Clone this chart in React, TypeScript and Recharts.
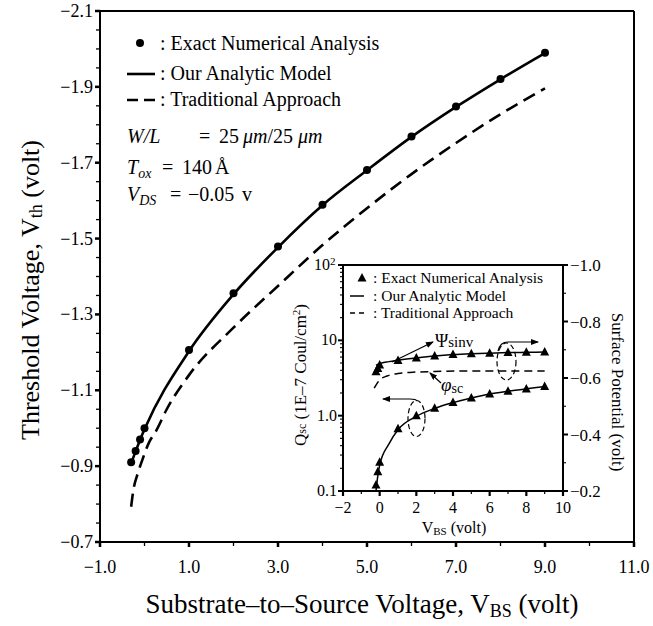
import React from "react";
import { ComposedChart, Line, Scatter, XAxis, YAxis, ReferenceLine } from "recharts";

const serif = "'Liberation Serif', 'Times New Roman', serif";

// main plot: Vth vs VBS
const vbsExact = [-0.3, -0.2, -0.1, 0, 1, 2, 3, 4, 5, 6, 7, 8, 9];
const vthExact = [-0.91, -0.94, -0.97, -1.0, -1.206, -1.356, -1.479, -1.589, -1.681, -1.769, -1.848, -1.921, -1.99];
const vbsModel = [-0.3, -0.2, -0.1, 0, 1, 2, 3, 4, 5, 6, 7, 8, 9];
const vthModel = [-0.907, -0.939, -0.969, -0.997, -1.203, -1.353, -1.477, -1.588, -1.68, -1.768, -1.847, -1.92, -1.989];
const vbsTrad = [-0.3, -0.25, -0.15, -0.05, 0.1, 0.27, 0.5, 1, 2, 3, 4, 5, 6, 7, 8, 9];
const vthTrad = [-0.793, -0.837, -0.881, -0.916, -0.962, -0.995, -1.05, -1.14, -1.265, -1.375, -1.483, -1.58, -1.67, -1.752, -1.828, -1.896];

// inset: Qsc (left, log) and surface potential (right)
const inVbsExact = [-0.2, -0.1, 0, 1, 2, 3, 4, 5, 6, 7, 8, 9];
const qscExact = [0.12, 0.18, 0.24, 0.67, 1.0, 1.25, 1.49, 1.72, 1.94, 2.11, 2.26, 2.43];
const psiExact = [-0.622, -0.634, -0.646, -0.662, -0.671, -0.678, -0.683, -0.686, -0.688, -0.69, -0.691, -0.692];
const inVbsModel = [-0.2, -0.1, 0, 0.5, 1, 2, 3, 4, 5, 6, 7, 8, 9];
const qscModel = [0.1, 0.16, 0.22, 0.42, 0.65, 0.98, 1.25, 1.49, 1.72, 1.94, 2.11, 2.27, 2.43];
const psiModel = [-0.645, -0.648, -0.651, -0.658, -0.663, -0.671, -0.678, -0.683, -0.686, -0.688, -0.69, -0.691, -0.692];
const inVbsTrad = [-0.3, -0.2, -0.1, 0, 0.4, 1, 2, 3, 5, 7, 9];
const phiTrad = [-0.564, -0.575, -0.585, -0.593, -0.607, -0.616, -0.621, -0.623, -0.625, -0.625, -0.625];

const logTicks = [0.1, 0.2, 0.3, 0.4, 0.5, 0.6, 0.7, 0.8, 0.9, 1, 2, 3, 4, 5, 6, 7, 8, 9, 10, 20, 30, 40, 50, 60, 70, 80, 90, 100];
const logLabels: Record<string, string> = { "0.1": "0.1", "1": "1.0", "10": "10", "100": "10" };

const steps = (a: number, b: number, s: number) => {
  const out: number[] = [];
  const n = Math.round((b - a) / s);
  for (let i = 0; i <= n; i++) out.push(Math.round((a + i * s) * 1000) / 1000);
  return out;
};

const pts = (xs: number[], ys: number[]) => xs.map((x, i) => ({ x, y: ys[i] }));

const fmt1 = (v: number) => (v < 0 ? "\u2212" : "") + Math.abs(v).toFixed(1);
const fmt0 = (v: number) => (v < 0 ? "\u2212" : "") + Math.abs(v).toFixed(0);

function MainXTick(p: any) {
  const { x, y, payload } = p;
  const v = payload.value;
  const ay = y - 8;
  const major = Math.abs(Math.round(v)) % 2 === 1;
  return (
    <g>
      <line x1={x} x2={x} y1={ay} y2={ay + (major ? 5 : 4)} stroke="#000" strokeWidth={major ? 2.5 : 1.3} />
      {major && (
        <text x={x} y={ay + 31} textAnchor="middle" fontSize={18} fontFamily={serif}>{fmt1(v)}</text>
      )}
    </g>
  );
}

function MainYTick(p: any) {
  const { x, y, payload } = p;
  const v = payload.value;
  const ax = x + 8;
  const major = Math.abs(Math.round(v * 100) % 20) === 10;
  return (
    <g>
      <line x1={ax} x2={ax - (major ? 5 : 4)} y1={y} y2={y} stroke="#000" strokeWidth={major ? 2.5 : 1.3} />
      {major && (
        <text x={ax - 7} y={y + 6} textAnchor="end" fontSize={18} fontFamily={serif}>{fmt1(v)}</text>
      )}
    </g>
  );
}

function InsetXTick(p: any) {
  const { x, y, payload } = p;
  const v = payload.value;
  const ay = y - 8;
  const major = Math.round(v) % 2 === 0;
  return (
    <g>
      <line x1={x} x2={x} y1={ay} y2={ay + (major ? 5 : 3)} stroke="#000" strokeWidth={major ? 2.2 : 1.2} />
      {major && (
        <text x={x} y={ay + 22} textAnchor="middle" fontSize={16} fontFamily={serif}>{fmt0(v)}</text>
      )}
    </g>
  );
}

function InsetLogTick(p: any) {
  const { x, y, payload } = p;
  const v = payload.value;
  const ax = x + 8;
  const label = logLabels[String(v)];
  return (
    <g>
      <line x1={ax} x2={ax - (label ? 5 : 3)} y1={y} y2={y} stroke="#000" strokeWidth={label ? 2 : 1.1} />
      {label && (
        <text x={ax - (v === 100 ? 13 : 6)} y={y + 5} textAnchor="end" fontSize={16} fontFamily={serif}>{label}</text>
      )}
      {v === 100 && (
        <text x={ax - 13} y={y} fontSize={11} fontFamily={serif}>2</text>
      )}
    </g>
  );
}

function InsetRightTick(p: any) {
  const { x, y, payload } = p;
  const v = payload.value;
  const ax = x - 8;
  const major = Math.abs(Math.round(v * 10)) % 2 === 0;
  return (
    <g>
      <line x1={ax} x2={ax + (major ? 5 : 3)} y1={y} y2={y} stroke="#000" strokeWidth={major ? 2 : 1.1} />
      {major && (
        <text x={ax + 7} y={y + 6} textAnchor="start" fontSize={17} fontFamily={serif}>{fmt1(v)}</text>
      )}
    </g>
  );
}

const Dot = (p: any) => <circle cx={p.cx} cy={p.cy} r={4} fill="#000" />;
const Tri = (p: any) => (
  <polygon points={`${p.cx},${p.cy - 5} ${p.cx - 4.5},${p.cy + 3.5} ${p.cx + 4.5},${p.cy + 3.5}`} fill="#000" />
);

function MainChart() {
  return (
    <ComposedChart width={653} height={626} margin={{ top: 11, right: 19, bottom: 54, left: 40 }}>
      <XAxis
        type="number"
        dataKey="x"
        domain={[-1, 11]}
        ticks={steps(-1, 11, 1)}
        interval={0}
        tickSize={0}
        tickMargin={8}
        tickLine={false}
        tick={(p: any) => <MainXTick {...p} />}
        axisLine={{ stroke: "#000", strokeWidth: 2 }}
        height={30}
        allowDataOverflow
      />
      <YAxis
        type="number"
        dataKey="y"
        domain={[-2.1, -0.7]}
        reversed
        ticks={steps(-2.1, -0.7, 0.05)}
        interval={0}
        tickSize={0}
        tickMargin={8}
        tickLine={false}
        tick={(p: any) => <MainYTick {...p} />}
        axisLine={{ stroke: "#000", strokeWidth: 2 }}
        width={60}
        allowDataOverflow
      />
      <ReferenceLine y={-2.1} stroke="#000" strokeWidth={2} />
      <ReferenceLine x={11} stroke="#000" strokeWidth={2} />
      <Line data={pts(vbsModel, vthModel)} dataKey="y" type="monotone" stroke="#000" strokeWidth={2.6} dot={false} isAnimationActive={false} />
      <Line data={pts(vbsTrad, vthTrad)} dataKey="y" type="monotone" stroke="#000" strokeWidth={2.6} strokeDasharray="13 7" dot={false} isAnimationActive={false} />
      <Scatter data={pts(vbsExact, vthExact)} dataKey="y" shape={Dot} isAnimationActive={false} />
    </ComposedChart>
  );
}

function InsetChart() {
  return (
    <ComposedChart width={340} height={290} margin={{ top: 10, right: 22, bottom: 24, left: 8 }}>
      <XAxis
        type="number"
        dataKey="x"
        domain={[-2, 10]}
        ticks={steps(-2, 10, 1)}
        interval={0}
        tickSize={0}
        tickMargin={8}
        tickLine={false}
        tick={(p: any) => <InsetXTick {...p} />}
        axisLine={{ stroke: "#000", strokeWidth: 2 }}
        height={30}
        allowDataOverflow
      />
      <YAxis
        yAxisId="q"
        type="number"
        dataKey="y"
        scale="log"
        domain={[0.1, 100]}
        ticks={logTicks}
        interval={0}
        tickSize={0}
        tickMargin={8}
        tickLine={false}
        tick={(p: any) => <InsetLogTick {...p} />}
        axisLine={{ stroke: "#000", strokeWidth: 2 }}
        width={45}
        allowDataOverflow
      />
      <YAxis
        yAxisId="psi"
        orientation="right"
        type="number"
        dataKey="y"
        domain={[-1.0, -0.2]}
        reversed
        ticks={steps(-1.0, -0.2, 0.1)}
        interval={0}
        tickSize={0}
        tickMargin={8}
        tickLine={false}
        tick={(p: any) => <InsetRightTick {...p} />}
        axisLine={{ stroke: "#000", strokeWidth: 2 }}
        width={45}
        allowDataOverflow
      />
      <ReferenceLine yAxisId="q" y={100} stroke="#000" strokeWidth={2} />
      <Line yAxisId="q" data={pts(inVbsModel, qscModel)} dataKey="y" type="monotone" stroke="#000" strokeWidth={1.5} dot={false} isAnimationActive={false} />
      <Line yAxisId="psi" data={pts(inVbsModel, psiModel)} dataKey="y" type="monotone" stroke="#000" strokeWidth={1.5} dot={false} isAnimationActive={false} />
      <Line yAxisId="psi" data={pts(inVbsTrad, phiTrad)} dataKey="y" type="monotone" stroke="#000" strokeWidth={1.5} strokeDasharray="8 5" dot={false} isAnimationActive={false} />
      <Scatter yAxisId="q" data={pts(inVbsExact, qscExact)} dataKey="y" shape={Tri} isAnimationActive={false} />
      <Scatter yAxisId="psi" data={pts(inVbsExact, psiExact)} dataKey="y" shape={Tri} isAnimationActive={false} />
    </ComposedChart>
  );
}

function Notes() {
  const t = { fontFamily: serif, fill: "#000" };
  return (
    <svg width={653} height={626} style={{ position: "absolute", left: 0, top: 0, pointerEvents: "none" }}>
      <defs>
        <marker id="ah" markerWidth="8" markerHeight="6" refX="7" refY="3" orient="auto" markerUnits="userSpaceOnUse">
          <path d="M0,0 L8,3 L0,6 Z" fill="#000" />
        </marker>
      </defs>

      {/* axis titles */}
      <text {...t} fontSize={26} textAnchor="middle" transform="translate(39,290) rotate(-90)">
        Threshold Voltage, V<tspan fontSize={18} dy={3}>th</tspan><tspan dy={-3}> (volt)</tspan>
      </text>
      <text {...t} fontSize={27} x={362} y={613} textAnchor="middle">
        Substrate–to–Source Voltage, V<tspan fontSize={18} dy={4}>BS</tspan><tspan dy={-4}> (volt)</tspan>
      </text>

      {/* main legend and conditions */}
      <circle cx={140} cy={43} r={4} fill="#000" />
      <text {...t} fontSize={20} x={160} y={50}>: Exact Numerical Analysis</text>
      <line x1={127} x2={155} y1={74} y2={74} stroke="#000" strokeWidth={2.6} />
      <text {...t} fontSize={20} x={160} y={80}>: Our Analytic Model</text>
      <line x1={127} x2={155} y1={100} y2={100} stroke="#000" strokeWidth={2.6} strokeDasharray="11 6" />
      <text {...t} fontSize={20} x={160} y={106}>: Traditional Approach</text>
      <text {...t} fontSize={20} x={127} y={143}>
        <tspan fontStyle="italic">W/L</tspan>
        <tspan x={199}>=</tspan>
        <tspan x={219}>25</tspan>
        <tspan x={243} fontStyle="italic">μm</tspan>
        <tspan>/25</tspan>
      </text>
      <text {...t} fontSize={20} x={298} y={143} fontStyle="italic">μm</text>
      <text {...t} fontSize={20} x={127} y={174}>
        <tspan fontStyle="italic">T</tspan>
        <tspan fontStyle="italic" fontSize={14} dy={4}>ox</tspan>
        <tspan x={162} dy={-4}>=</tspan>
        <tspan x={182}>140</tspan>
        <tspan x={215}>Å</tspan>
      </text>
      <text {...t} fontSize={20} x={127} y={201}>
        <tspan fontStyle="italic">V</tspan>
        <tspan fontStyle="italic" fontSize={14} dy={4}>DS</tspan>
        <tspan x={170} dy={-4}>=</tspan>
      </text>
      <text {...t} fontSize={20} x={188} y={201}>−0.05</text>
      <text {...t} fontSize={20} x={242} y={201}>v</text>

      {/* inset titles */}
      <text {...t} fontSize={17} textAnchor="middle" transform="translate(306,375) rotate(-90)">
        Q<tspan fontSize={12}>sc</tspan> (1E–7 Coul/cm<tspan fontSize={11} dy={-6}>2</tspan><tspan dy={6}>)</tspan>
      </text>
      <text {...t} fontSize={17} textAnchor="middle" dominantBaseline="middle" transform="translate(616,392) rotate(90)">
        Surface Potential (volt)
      </text>
      <text {...t} fontSize={16} x={454} y={533} textAnchor="middle">
        V<tspan fontSize={11} dy={2}>BS</tspan><tspan dy={-2}> (volt)</tspan>
      </text>

      {/* inset legend */}
      <polygon points="362,273 357.5,281.5 366.5,281.5" fill="#000" />
      <text {...t} fontSize={15.5} x={373} y={283}>: Exact Numerical Analysis</text>
      <line x1={350} x2={364} y1={296} y2={296} stroke="#000" strokeWidth={1.5} />
      <text {...t} fontSize={15.5} x={373} y={300.5}>: Our Analytic Model</text>
      <line x1={350} x2={364} y1={313} y2={313} stroke="#000" strokeWidth={1.5} strokeDasharray="5 4" />
      <text {...t} fontSize={15.5} x={373} y={317.5}>: Traditional Approach</text>

      {/* inset annotations */}
      <line x1={392} y1={362} x2={433} y2={342} stroke="#000" strokeWidth={1.2} markerEnd="url(#ah)" />
      <text {...t} fontSize={18} x={435} y={347}>Ψ<tspan fontSize={15}>sinv</tspan></text>
      <line x1={441} y1={383} x2={430} y2={373} stroke="#000" strokeWidth={1.2} markerEnd="url(#ah)" />
      <text {...t} fontSize={19} fontStyle="italic" x={441} y={391}>φ<tspan fontStyle="normal" fontSize={14} dy={2}>sc</tspan></text>
      <ellipse cx={506.5} cy={361.5} rx={9.5} ry={18.5} fill="none" stroke="#000" strokeWidth={1.2} strokeDasharray="5 3" />
      <path d="M498,351 Q500,342 508,342 L538,342" fill="none" stroke="#000" strokeWidth={1.2} markerEnd="url(#ah)" />
      <ellipse cx={416.5} cy={418.5} rx={8.5} ry={18} fill="none" stroke="#000" strokeWidth={1.2} strokeDasharray="5 3" />
      <path d="M417,401 Q416,399 410,399 L383,399" fill="none" stroke="#000" strokeWidth={1.2} markerEnd="url(#ah)" />
    </svg>
  );
}

export default function App() {
  return (
    <div style={{ position: "absolute", left: 0, top: 0, width: 653, height: 626, background: "#fff", fontFamily: serif }}>
      <div style={{ position: "absolute", left: 0, top: 0 }}>
        <MainChart />
      </div>
      <div style={{ position: "absolute", left: 290, top: 255 }}>
        <InsetChart />
      </div>
      <Notes />
    </div>
  );
}
